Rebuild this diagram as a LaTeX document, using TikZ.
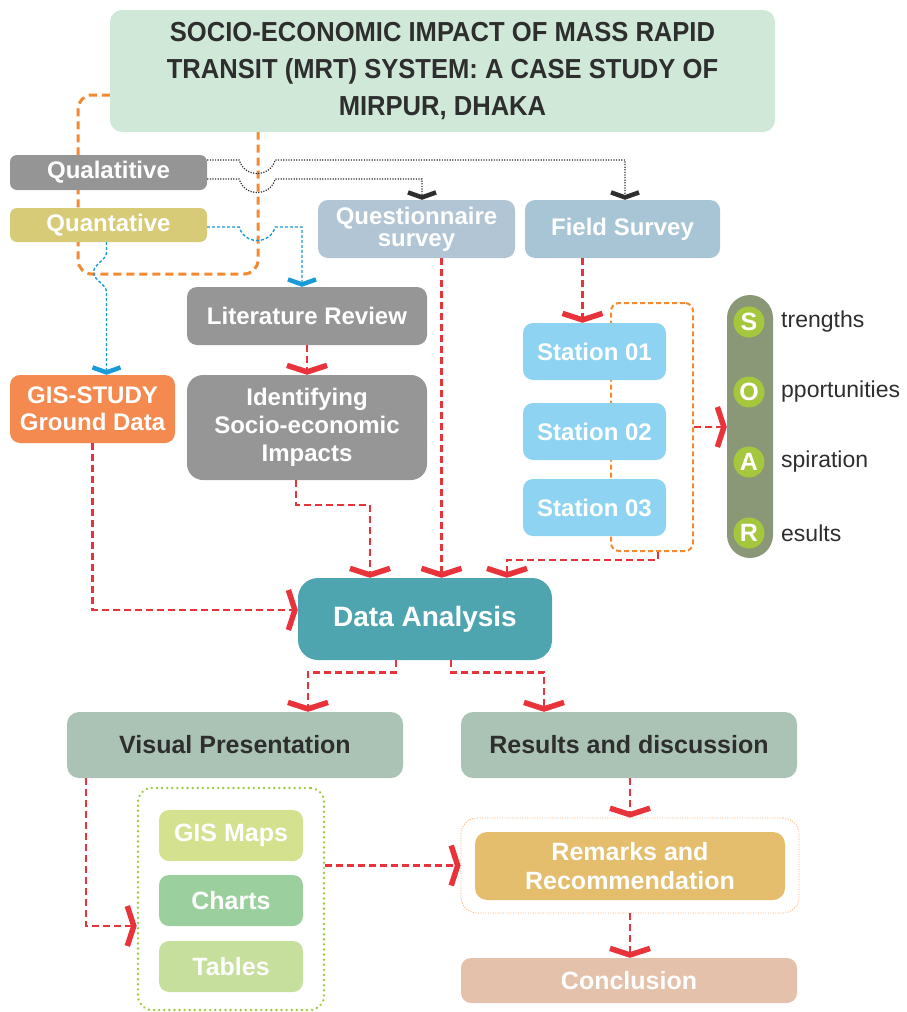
\documentclass[tikz,border=0pt]{standalone}
\usepackage{fontspec}
\setmainfont{Liberation Sans}
\newfontfamily\titlefont[FakeStretch=0.93]{Liberation Sans}
\usetikzlibrary{arrows.meta,backgrounds,calc}
\definecolor{ctitle}{HTML}{CFE8D8}
\definecolor{cqual}{HTML}{959595}
\definecolor{cquant}{HTML}{D8CB78}
\definecolor{cquest}{HTML}{B2C5D5}
\definecolor{cfield}{HTML}{A8C5D5}
\definecolor{cgray}{HTML}{969696}
\definecolor{cgis}{HTML}{F48A50}
\definecolor{cstat}{HTML}{8ED4F2}
\definecolor{cpill}{HTML}{8A9878}
\definecolor{ccirc}{HTML}{A5C73E}
\definecolor{cda}{HTML}{4FA5AF}
\definecolor{cvp}{HTML}{ABC3B4}
\definecolor{cmaps}{HTML}{D4E18E}
\definecolor{ccharts}{HTML}{9BD09E}
\definecolor{ctables}{HTML}{C6DF9C}
\definecolor{crem}{HTML}{E4BD6D}
\definecolor{cconc}{HTML}{E4C1AB}
\definecolor{cred}{HTML}{E8333A}
\definecolor{corange}{HTML}{F38A32}
\definecolor{cblue}{HTML}{1B9AD8}
\definecolor{cgreen}{HTML}{9CC93D}
\definecolor{cdark}{HTML}{2E2E2E}
\tikzset{
  sz/.style 2 args={minimum width=#1pt, minimum height=#2pt},
  box/.style={rounded corners=10pt, inner sep=2pt, align=center, text=white,
    font=\fontsize{24}{26}\selectfont\bfseries},
  darkbox/.style={box, text=cdark, font=\fontsize{25}{27}\selectfont\bfseries},
  redline/.style={draw=cred, line width=2.6pt, dash pattern=on 7pt off 4pt,
    -{Straight Barb[length=6.5pt,width=40pt,line width=5.5pt]}},
  blkline/.style={draw=cdark, line width=1.2pt, dash pattern=on 1.2pt off 1.4pt,
    -{Straight Barb[length=5pt,width=28pt,line width=4.5pt]}},
  blueline/.style={draw=cblue, line width=1.4pt, dash pattern=on 3pt off 2pt,
    -{Straight Barb[length=5pt,width=28pt,line width=4.5pt]}},
  orangeloop/.style={draw=corange, line width=3pt, dash pattern=on 8pt off 5pt},
  circ/.style={circle, fill=ccirc, minimum size=31pt, inner sep=0pt, text=white,
    font=\fontsize{25}{25}\selectfont\bfseries},
  soarlbl/.style={anchor=west, inner sep=0pt, text=cdark, font=\fontsize{23}{23}\selectfont},
}
\begin{document}
\begin{tikzpicture}[x=1pt,y=-1pt]
\useasboundingbox (0,0) rectangle (906,1012);

% title
\node[box, fill=ctitle, sz={665}{122}, rounded corners=12pt, text=cdark,
  font=\titlefont\fontsize{27.5}{37}\selectfont\bfseries] (title) at (442.5,71)
  {SOCIO-ECONOMIC IMPACT OF MASS RAPID\\TRANSIT (MRT) SYSTEM: A CASE STUDY OF\\MIRPUR, DHAKA};

\node[box, fill=cqual, sz={197}{35}, rounded corners=7pt] (qual) at (108.5,172.5) {Qualatitive};
\node[box, fill=cquant, sz={197}{34}, rounded corners=7pt] (quant) at (108.5,225) {Quantative};

\node[box, fill=cquest, sz={197}{58}, font=\fontsize{24}{22}\selectfont\bfseries] (quest) at (416.5,229) {Questionnaire\\survey};
\node[box, fill=cfield, sz={195}{58}] (field) at (622.5,229) {Field Survey};

\node[box, fill=cgray, sz={240}{58}] (lit) at (307,316) {Literature Review};
\node[box, fill=cgray, sz={240}{105}, rounded corners=16pt, font=\fontsize{24}{28}\selectfont\bfseries] (ident) at (307,427.5) {Identifying\\Socio-economic\\Impacts};
\node[box, fill=cgis, sz={165}{68}, font=\fontsize{24}{27}\selectfont\bfseries] (gis) at (92.5,409) {GIS-STUDY\\Ground Data};

% stations
\node[draw=corange, line width=2pt, dash pattern=on 5pt off 3pt, rounded corners=8pt, sz={82}{248}] (sbox) at (652,427) {};
\node[box, fill=cstat, sz={143}{57}] (s1) at (594.5,351.5) {Station 01};
\node[box, fill=cstat, sz={143}{57}] (s2) at (594.5,431.5) {Station 02};
\node[box, fill=cstat, sz={143}{57}] (s3) at (594.5,507.5) {Station 03};

% SOAR
\node[fill=cpill, rounded corners=23pt, sz={46}{263}] (soar) at (750,426.5) {};
\node[circ] (cs) at (749,322) {S};
\node[circ] (co) at (749,392) {O};
\node[circ] (ca) at (749,462) {A};
\node[circ] (cr) at (749,533) {R};
\node[soarlbl] (ls) at (781,322) {trengths};
\node[soarlbl] (lo) at (781,392) {pportunities};
\node[soarlbl] (la) at (781,462) {spiration};
\node[soarlbl] (lr) at (781,533) {esults};

% data analysis
\node[box, fill=cda, sz={254}{82}, rounded corners=20pt, font=\fontsize{28}{30}\selectfont\bfseries] (da) at (425,619) {Data Analysis};

\node[darkbox, fill=cvp, sz={336}{66}, rounded corners=12pt] (vp) at (235,745) {Visual Presentation};
\node[darkbox, fill=cvp, sz={336}{66}, rounded corners=12pt] (res) at (629,745) {Results and discussion};

% green group
\node[draw=cgreen, line width=2.6pt, dash pattern=on 0.1pt off 5pt, line cap=round, rounded corners=14pt, sz={186}{222}] (gbox) at (231,899) {};
\node[box, fill=cmaps, sz={144}{51}, font=\fontsize{25}{27}\selectfont\bfseries] (maps) at (231,835.5) {GIS Maps};
\node[box, fill=ccharts, sz={144}{51}, font=\fontsize{25}{27}\selectfont\bfseries] (charts) at (231,900.5) {Charts};
\node[box, fill=ctables, sz={144}{51}, font=\fontsize{25}{27}\selectfont\bfseries] (tables) at (231,966.5) {Tables};

% remarks
\node[draw=corange!70, line width=0.8pt, dash pattern=on 1pt off 1.5pt, rounded corners=16pt, sz={338}{95}] (rout) at (630,865.5) {};
\node[box, fill=crem, sz={310}{68}, rounded corners=12pt, font=\fontsize{25}{29}\selectfont\bfseries] (rem) at (630,866) {Remarks and\\Recommendation};
\node[box, fill=cconc, sz={336}{45}, rounded corners=10pt, font=\fontsize{25}{27}\selectfont\bfseries] (conc) at (629,980.5) {Conclusion};

% helper coordinates
\coordinate (oL) at (78,274);
\coordinate (oR) at (258,274);
\coordinate (ia) at (370,505);
\coordinate (sa) at (507,560);

% orange loop behind boxes
\begin{scope}[on background layer]
\draw[orangeloop, rounded corners=14pt] ([yshift=-24pt]title.west) -| (oL) -- (oR) -- (oR |- title.south);
\end{scope}

% black dotted
\draw[blkline] ([yshift=12.5pt]qual.east) -- ++(32,0) .. controls +(5,18) and +(-5,18) .. ++(36,0) -| ([xshift=2.5pt]field.north);
\draw[blkline] ([yshift=-6.5pt]qual.east) -- ++(32,0) .. controls +(5,18) and +(-5,18) .. ++(36,0) -| ([xshift=5.5pt]quest.north);

% blue
\draw[blueline] ([yshift=-2pt]quant.east) -- ++(32,0) .. controls +(5,18) and +(-5,18) .. ++(36,0) -| ([xshift=-5pt]lit.north);
\draw[blueline] ([xshift=-2pt]quant.south) -- ++(0,10) .. controls +(0,8) and +(0,-8) .. ++(-13,20) .. controls +(0,8) and +(0,-8) .. ++(13,20) -- ([xshift=-2pt]quant.south |- gis.north);

% red connectors
\draw[redline] ([xshift=-40pt]field.south) -- ([xshift=-40pt]field.south |- s1.north);
\draw[redline] (lit.south) -- (ident.north);
\draw[redline] ([xshift=25pt]quest.south) -- ([xshift=25pt]quest.south |- da.north);
\draw[redline] ([xshift=-11pt]ident.south) |- (ia) -- (ia |- da.north);
\draw[redline] ([xshift=-36pt]sbox.south east) |- (sa) -- (sa |- da.north);
\draw[redline] (gis.south) |- ([yshift=9pt]da.west);
\draw[redline] (sbox.east) -- (sbox.east -| soar.west);
\draw[redline] ([xshift=-29pt]da.south) -- ++(0,12) -| ([xshift=73pt]vp.north);
\draw[redline] ([xshift=26pt]da.south) -- ++(0,12) -| ([xshift=-85pt]res.north);
\draw[redline] ([xshift=-149pt]vp.south) |- ([yshift=-27pt]gbox.west);
\draw[redline] (gbox.east |- rout.west) -- (rout.west);
\draw[redline] (res.south -| rout.north) -- (rout.north);
\draw[redline] (rout.south) -- (rout.south |- conc.north);
\end{tikzpicture}
\end{document}
